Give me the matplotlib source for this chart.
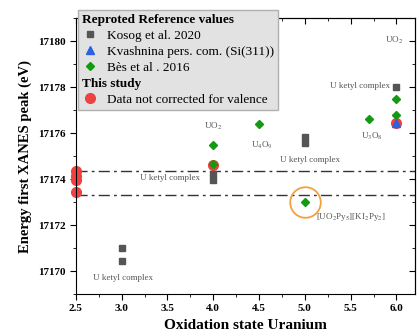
import matplotlib.pyplot as plt
from matplotlib.lines import Line2D

plt.rcParams['font.family'] = ['Liberation Serif', 'DejaVu Serif']
plt.rcParams['mathtext.fontset'] = 'stix'

# Kosog et al. 2020
kosog_x = [3.0, 3.0, 4.0, 4.0, 5.0, 5.0, 6.0]
kosog_y = [17171.0, 17170.45, 17174.2, 17173.95, 17175.85, 17175.55, 17178.0]
# Kvashnina pers. com.
kvash_x = [6.0]
kvash_y = [17176.42]
# Bes et al 2016
bes_x = [4.0, 4.0, 4.5, 5.0, 5.7, 6.0, 6.0]
bes_y = [17175.5, 17174.65, 17176.4, 17173.0, 17176.6, 17177.5, 17176.8]
# this study
red_x = [2.5, 2.5, 2.5, 2.5, 4.0, 6.0]
red_y = [17174.33, 17174.15, 17173.97, 17173.45, 17174.62, 17176.42]

hlines = [17174.35, 17173.3]

labels = [
    ("UO$_2$", 5.97, 17180.05),
    ("U ketyl complex", 5.6, 17178.05),
    ("UO$_2$", 4.0, 17176.3),
    ("U$_4$O$_9$", 4.53, 17175.5),
    ("U ketyl complex", 5.06, 17174.85),
    ("U$_3$O$_8$", 5.73, 17175.85),
    ("U ketyl complex", 3.53, 17174.05),
    ("U ketyl complex", 3.02, 17169.7),
    ("[UO$_2$Py$_5$][KI$_2$Py$_2$]", 5.5, 17172.35),
]

fig = plt.figure(figsize=(4.19, 3.36), dpi=100)
ax = fig.add_axes([0.181, 0.125, 0.809, 0.821])

for y in hlines:
    ax.axhline(y, color='#333333', lw=1.0, ls=(0, (8, 3, 2, 3)), zorder=1)

ax.plot(red_x, red_y, 'o', color='#f04040', ms=7, ls='none', zorder=2, clip_on=False)
ax.plot(kosog_x, kosog_y, 's', color='#555555', ms=4.3, ls='none', zorder=3)
ax.plot(bes_x, bes_y, 'D', color='#129a12', ms=4.5, ls='none', zorder=4)
ax.plot(kvash_x, kvash_y, '^', color='#2a62e0', ms=5.5, ls='none', zorder=5)
ax.plot([5.0], [17173.0], 'o', mfc='none', mec='#f5a040', mew=1.3, ms=22, zorder=6)

for txt, x, y in labels:
    ax.text(x, y, txt, color='#555555', fontsize=6.5, ha='center', va='center')

ax.set_xlim(2.5, 6.2)
ax.set_ylim(17169, 17181)
ax.set_xticks([2.5, 3.0, 3.5, 4.0, 4.5, 5.0, 5.5, 6.0])
ax.set_xticks([2.75, 3.25, 3.75, 4.25, 4.75, 5.25, 5.75], minor=True)
ax.set_yticks([17170, 17172, 17174, 17176, 17178, 17180])
ax.set_yticks([17169, 17171, 17173, 17175, 17177, 17179, 17181], minor=True)
ax.xaxis.set_major_formatter(plt.FormatStrFormatter('%.1f'))
ax.yaxis.set_major_formatter(plt.FormatStrFormatter('%d'))
ax.tick_params(which='both', direction='out', labelsize=8, top=False, right=False)
ax.tick_params(which='major', length=4)
ax.tick_params(which='minor', length=2)
for lab in ax.get_xticklabels() + ax.get_yticklabels():
    lab.set_fontweight('bold')
sec = ax.secondary_xaxis('top')
sec.set_xticks(ax.get_xticks())
sec.set_xticks([2.75, 3.25, 3.75, 4.25, 4.75, 5.25, 5.75], minor=True)
sec.tick_params(which='both', direction='in', labeltop=False)
sec.tick_params(which='major', length=4)
sec.tick_params(which='minor', length=2)
sec2 = ax.secondary_yaxis('right')
sec2.set_yticks([17170, 17172, 17174, 17176, 17178, 17180])
sec2.set_yticks([17169, 17171, 17173, 17175, 17177, 17179, 17181], minor=True)
sec2.tick_params(which='both', direction='in', labelright=False)
sec2.tick_params(which='major', length=4)
sec2.tick_params(which='minor', length=2)

ax.set_xlabel('Oxidation state Uranium', fontsize=11, fontweight='bold')
ax.set_ylabel('Energy first XANES peak (eV)', fontsize=10.5, fontweight='bold')

handles = [
    Line2D([], [], ls='none'),
    Line2D([], [], marker='s', color='#555555', ms=4.3, ls='none'),
    Line2D([], [], marker='^', color='#2a62e0', ms=5.5, ls='none'),
    Line2D([], [], marker='D', color='#129a12', ms=4.5, ls='none'),
    Line2D([], [], ls='none'),
    Line2D([], [], marker='o', color='#f04040', ms=7, ls='none'),
]
names = ['Reproted Reference values', 'Kosog et al. 2020', 'Kvashnina pers. com. (Si(311))',
         'Bès et al . 2016', 'This study', 'Data not corrected for valence']
leg = ax.legend(handles, names, loc='upper left', bbox_to_anchor=(0.006, 1.03),
                borderaxespad=0, fontsize=9.5, frameon=True, fancybox=False,
                facecolor='#e2e2e2', edgecolor='#b0b0b0', framealpha=1,
                handlelength=1.3, handletextpad=0.6, labelspacing=0.28,
                borderpad=0.3)
leg.set_zorder(10)
for i, t in enumerate(leg.get_texts()):
    if i in (0, 4):
        t.set_fontweight('bold')
for vpack in leg._legend_handle_box.get_children():
    rows = vpack.get_children()
    for i in (0, 4):
        rows[i].get_children()[0].set_width(0)
        rows[i].sep = 0

fig.savefig('out.png', dpi=100)
